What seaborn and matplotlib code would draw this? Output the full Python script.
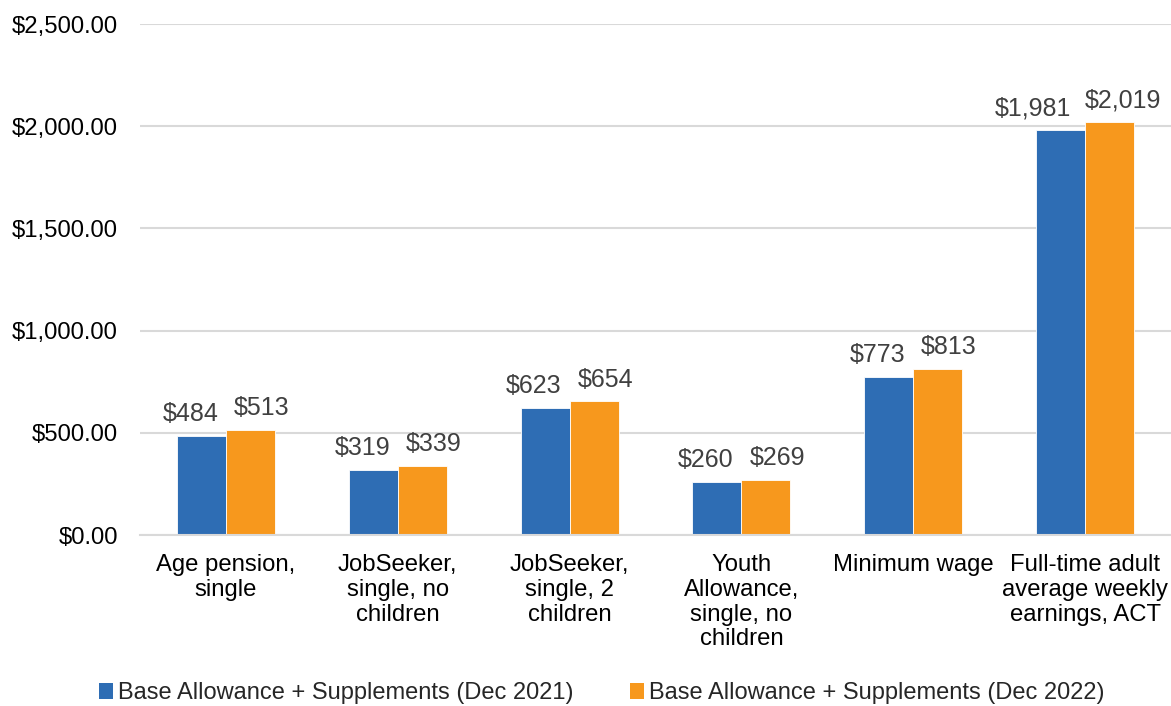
import matplotlib
matplotlib.use("Agg")
import matplotlib.pyplot as plt
import seaborn as sns
import pandas as pd
from matplotlib.patches import Patch

categories = [
    "Age pension,\nsingle",
    "JobSeeker,\nsingle, no\nchildren",
    "JobSeeker,\nsingle, 2\nchildren",
    "Youth\nAllowance,\nsingle, no\nchildren",
    "Minimum wage",
    "Full-time adult\naverage weekly\nearnings, ACT",
]
series_names = [
    "Base Allowance + Supplements (Dec 2021)",
    "Base Allowance + Supplements (Dec 2022)",
]
values_2021 = [484, 319, 623, 260, 773, 1981]
values_2022 = [513, 339, 654, 269, 813, 2019]
y_ticks = [0, 500, 1000, 1500, 2000, 2500]

colors = ["#2E6DB4", "#F7981D"]

df = pd.DataFrame({
    "category": categories * 2,
    "series": [series_names[0]] * len(categories) + [series_names[1]] * len(categories),
    "value": values_2021 + values_2022,
})

sns.set_theme(style="white")
plt.rcParams["font.family"] = ["Liberation Sans", "DejaVu Sans"]

fig = plt.figure(figsize=(11.71, 7.06), dpi=100)
ax = fig.add_axes([0.1196, 0.2422, 0.8804, 0.7238])

sns.barplot(
    data=df, x="category", y="value", hue="series",
    order=categories, hue_order=series_names,
    palette=colors, width=0.57, saturation=1,
    edgecolor="white", linewidth=0.6, legend=False, ax=ax,
)

# value labels, pushed outward so neighbouring labels don't collide;
# longer labels get pushed a little further
for i, container in enumerate(ax.containers):
    for patch, v in zip(container.patches, container.datavalues):
        text = f"${v:,.0f}"
        extra = len(text) - 4
        dx = -(8 + 6 * extra) if i == 0 else (8 + 1 * extra)
        ax.annotate(text,
                    xy=(patch.get_x() + patch.get_width() / 2, patch.get_height()),
                    xytext=(dx, 7), textcoords="offset points",
                    ha="center", va="bottom", fontsize=18, color="#404040")

ax.set_ylim(0, 2500)
ax.set_xlim(-0.5, len(categories) - 0.5)
ax.set_yticks(y_ticks)
ax.set_yticklabels([f"${v:,.2f}" for v in y_ticks], fontsize=17.2, color="#000000")
ax.set_xticks(range(len(categories)))
ax.set_xticklabels(categories, fontsize=17.2, color="#000000", linespacing=1.15)
ax.tick_params(axis="y", length=0, pad=16)
ax.tick_params(axis="x", length=0, pad=14)
ax.set_xlabel("")
ax.set_ylabel("")

ax.yaxis.grid(True, color="#D9D9D9", linewidth=1.5)
ax.set_axisbelow(True)
for side in ["top", "right", "left"]:
    ax.spines[side].set_visible(False)
ax.spines["bottom"].set_color("#D9D9D9")
ax.spines["bottom"].set_linewidth(1.5)

handles = [Patch(facecolor=c, edgecolor="none") for c in colors]
fig.legend(handles, series_names, loc="center", bbox_to_anchor=(0.514, 0.018),
           ncol=2, frameon=False, fontsize=17, handlelength=0.6, handleheight=0.7,
           handletextpad=0.2, columnspacing=2.4, borderaxespad=0)

fig.savefig("out.png", dpi=100)
